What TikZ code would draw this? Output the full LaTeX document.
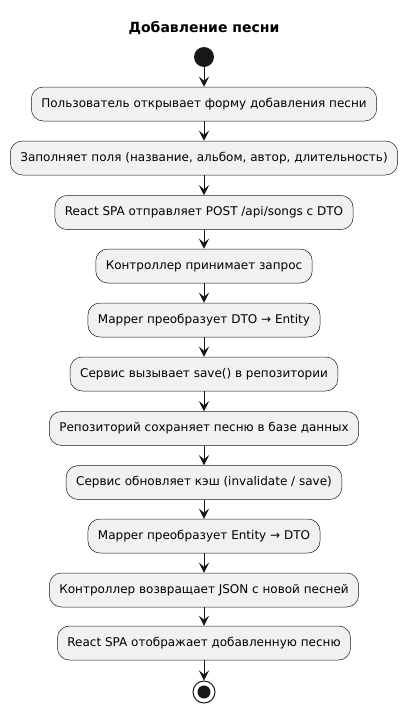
\documentclass[tikz,border=0pt]{standalone}
\usepackage{fontspec}
\setmainfont{DejaVu Sans}
\usetikzlibrary{arrows.meta}
\definecolor{boxfill}{HTML}{F1F1F1}
\definecolor{linec}{HTML}{181818}
\tikzset{
  act/.style={draw=linec, line width=0.5pt, fill=boxfill, rounded corners=12pt,
    minimum height=34pt, inner xsep=10pt, inner ysep=0pt, font=\fontsize{12pt}{14pt}\selectfont, text=black},
  arr/.style={draw=linec, line width=1pt, -{Stealth[length=10pt,width=10pt,inset=4pt]}},
  startnode/.style={circle, fill=linec, minimum size=20pt, inner sep=0pt},
  endouter/.style={circle, draw=linec, line width=1pt, fill=white, minimum size=22pt, inner sep=0pt},
}
\begin{document}
\begin{tikzpicture}[x=1pt,y=1pt]
\useasboundingbox (0,0) rectangle (408,-712);
\node[font=\fontsize{14pt}{16pt}\selectfont\bfseries] (title) at (204,-28) {Добавление песни};
\node[startnode] (start) at (204,-57) {};
\node[act] (b1) at (204,-104) {Пользователь открывает форму добавления песни};
\node[act] (b2) at (204,-158) {Заполняет поля (название, альбом, автор, длительность)};
\node[act] (b3) at (204,-212.5) {React SPA отправляет POST /api/songs с DTO};
\node[act] (b4) at (204,-266) {Контроллер принимает запрос};
\node[act] (b5) at (204,-320) {Mapper преобразует DTO → Entity};
\node[act] (b6) at (204,-374) {Сервис вызывает save() в репозитории};
\node[act] (b7) at (204,-428.5) {Репозиторий сохраняет песню в базе данных};
\node[act] (b8) at (204,-482.5) {Сервис обновляет кэш (invalidate / save)};
\node[act] (b9) at (204,-536) {Mapper преобразует Entity → DTO};
\node[act] (b10) at (204,-590) {Контроллер возвращает JSON с новой песней};
\node[act] (b11) at (204,-643) {React SPA отображает добавленную песню};
\node[endouter] (stop) at (204,-692) {};
\node[circle, fill=linec, minimum size=13pt, inner sep=0pt] (stopin) at (stop.center) {};
\draw[arr] (start) -- (b1);
\draw[arr] (b1) -- (b2);
\draw[arr] (b2) -- (b3);
\draw[arr] (b3) -- (b4);
\draw[arr] (b4) -- (b5);
\draw[arr] (b5) -- (b6);
\draw[arr] (b6) -- (b7);
\draw[arr] (b7) -- (b8);
\draw[arr] (b8) -- (b9);
\draw[arr] (b9) -- (b10);
\draw[arr] (b10) -- (b11);
\draw[arr] (b11) -- (stop);
\end{tikzpicture}
\end{document}
